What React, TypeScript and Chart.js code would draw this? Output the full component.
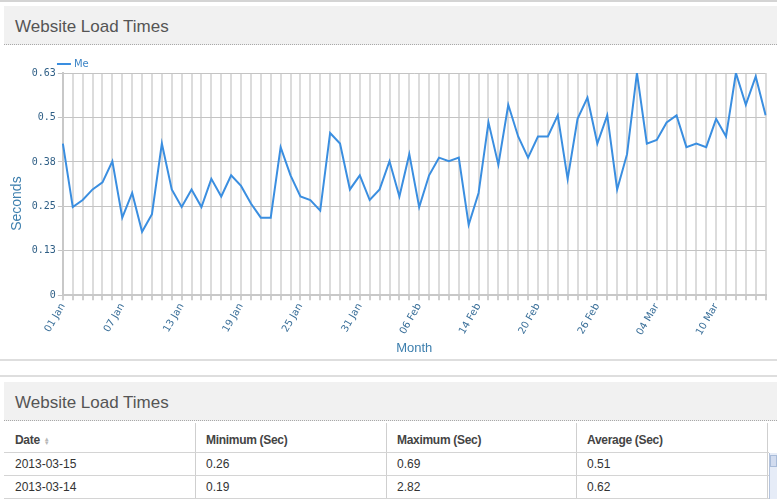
import React, { useEffect, useRef } from "react";
import { Chart, registerables } from "chart.js";

Chart.register(...registerables);

const dates: string[] = [
  "01 Jan", "02 Jan", "03 Jan", "04 Jan", "05 Jan", "06 Jan", "07 Jan", "08 Jan", "09 Jan", "10 Jan",
  "11 Jan", "12 Jan", "13 Jan", "14 Jan", "15 Jan", "16 Jan", "17 Jan", "18 Jan", "19 Jan", "20 Jan",
  "21 Jan", "22 Jan", "23 Jan", "24 Jan", "25 Jan", "26 Jan", "27 Jan", "28 Jan", "29 Jan", "30 Jan",
  "31 Jan", "01 Feb", "02 Feb", "03 Feb", "04 Feb", "05 Feb", "06 Feb", "07 Feb", "08 Feb", "11 Feb",
  "12 Feb", "13 Feb", "14 Feb", "15 Feb", "16 Feb", "17 Feb", "18 Feb", "19 Feb", "20 Feb", "21 Feb",
  "22 Feb", "23 Feb", "24 Feb", "25 Feb", "26 Feb", "27 Feb", "28 Feb", "01 Mar", "02 Mar", "03 Mar",
  "04 Mar", "05 Mar", "06 Mar", "07 Mar", "08 Mar", "09 Mar", "10 Mar", "11 Mar", "12 Mar", "13 Mar",
  "14 Mar", "15 Mar",
];

const meValues: number[] = [
  0.43, 0.25, 0.27, 0.30, 0.32, 0.38, 0.22, 0.29, 0.18, 0.23,
  0.43, 0.30, 0.25, 0.30, 0.25, 0.33, 0.28, 0.34, 0.31, 0.26,
  0.22, 0.22, 0.42, 0.34, 0.28, 0.27, 0.24, 0.46, 0.43, 0.30,
  0.34, 0.27, 0.30, 0.38, 0.28, 0.40, 0.25, 0.34, 0.39, 0.38,
  0.39, 0.20, 0.29, 0.49, 0.37, 0.54, 0.45, 0.39, 0.45, 0.45,
  0.51, 0.33, 0.50, 0.56, 0.43, 0.51, 0.30, 0.40, 0.63, 0.43,
  0.44, 0.49, 0.51, 0.42, 0.43, 0.42, 0.50, 0.45, 0.63, 0.54,
  0.62, 0.51,
];

const yTickValues: number[] = [0, 0.126, 0.252, 0.378, 0.504, 0.63];
const xLabelEvery = 6;

const tableColumns: string[] = ["Date", "Minimum (Sec)", "Maximum (Sec)", "Average (Sec)"];
const tableDates: string[] = ["2013-03-15", "2013-03-14"];
const tableMin: string[] = ["0.26", "0.19"];
const tableMax: string[] = ["0.69", "2.82"];
const tableAvg: string[] = ["0.51", "0.62"];

const TITLE = "Website Load Times";
const FONT = "'Liberation Sans', Arial, sans-serif";
const TICK_FONT = "'DejaVu Sans', Verdana, sans-serif";

const legendShift = {
  id: "legendShift",
  beforeDraw(chart: any) {
    const lg = chart.legend;
    if (lg && !lg._shifted) {
      const dx = chart.chartArea.left - 6 - lg.left;
      lg.left += dx;
      lg.right += dx;
      lg.top += 6;
      lg.bottom += 6;
      lg._shifted = true;
    }
  },
};

function LoadChart() {
  const ref = useRef<HTMLCanvasElement | null>(null);
  useEffect(() => {
    if (!ref.current) return;
    const chart = new Chart(ref.current, {
      type: "line",
      data: {
        labels: dates,
        datasets: [
          {
            label: "Me",
            data: meValues,
            borderColor: "#3a8ee0",
            backgroundColor: "#3a8ee0",
            borderWidth: 2,
            pointRadius: 0,
            tension: 0,
            fill: false,
          },
        ],
      },
      plugins: [legendShift],
      options: {
        animation: false,
        responsive: false,
        maintainAspectRatio: false,
        layout: { padding: { left: 9, right: -3, top: 12, bottom: 0 } },
        plugins: {
          legend: {
            display: true,
            position: "top",
            align: "start",
            fullSize: false,
            labels: {
              usePointStyle: true,
              pointStyle: "line",
              boxWidth: 10,
              color: "#3d85c6",
              font: { family: TICK_FONT, size: 10 },
              padding: 2,
            },
          },
          tooltip: { enabled: false },
        },
        scales: {
          x: {
            offset: false,
            grid: { color: "#dcdcdc", lineWidth: 2, tickLength: 5, tickColor: "#cfcfcf" },
            border: { color: "#c8c8c8", width: 2 },
            ticks: {
              autoSkip: false,
              minRotation: 60,
              maxRotation: 60,
              padding: 1,
              color: "#3a6f99",
              font: { family: TICK_FONT, size: 10 },
              callback: (_v: any, i: number) => (i % xLabelEvery === 0 ? dates[i] : ""),
            },
            title: {
              display: true,
              text: "Month",
              color: "#3d7fae",
              font: { family: FONT, size: 13 },
              padding: { top: 2, bottom: 0 },
            },
          },
          y: {
            min: 0,
            max: 0.63,
            afterBuildTicks: (scale: any) => {
              scale.ticks = yTickValues.map((v) => ({ value: v }));
            },
            grid: { color: "#c4c4c4", lineWidth: 1, tickLength: 5, tickColor: "#c4c4c4" },
            border: { color: "#c8c8c8", width: 2 },
            ticks: {
              color: "#2f5f86",
              font: { family: "'DejaVu Sans Mono', monospace", size: 10, lineHeight: 0.4 },
              padding: 2,
              callback: (v: any) => String(parseFloat(Number(v).toFixed(2))),
            },
            title: {
              display: true,
              text: "Seconds" + "\u00a0".repeat(10),
              color: "#3d7fae",
              font: { family: FONT, size: 14 },
              padding: { top: 0, bottom: 4 },
            },
          },
        },
      },
    } as any);
    return () => chart.destroy();
  }, []);
  return <canvas ref={ref} width={777} height={317} style={{ display: "block", width: 777, height: 317 }} />;
}

function SortIcon() {
  return (
    <span style={{ display: "inline-block", verticalAlign: "middle", marginLeft: 4, lineHeight: "4px", fontSize: 6, color: "#b8b8b8" }}>
      <span style={{ display: "block" }}>▲</span>
      <span style={{ display: "block" }}>▼</span>
    </span>
  );
}

function Panel({ top }: { top: number }) {
  return (
    <div
      style={{
        position: "absolute",
        left: 4,
        top,
        width: 773,
        height: 39,
        background: "#f1f1f1",
        borderBottom: "1px dotted #a8a8a8",
        boxSizing: "border-box",
      }}
    >
      <div style={{ position: "absolute", left: 11, top: 11, fontFamily: FONT, fontSize: 17, color: "#555" }}>{TITLE}</div>
    </div>
  );
}

export default function App() {
  const colX = [4, 195, 386, 576, 767];
  const rows = tableDates.map((d, i) => [d, tableMin[i], tableMax[i], tableAvg[i]]);
  return (
    <div style={{ position: "fixed", left: 0, top: 0, width: 777, height: 499, background: "#fff", overflow: "hidden" }}>
      <div style={{ position: "absolute", left: 0, top: 0, width: 777, height: 2, background: "#d4d4d4" }} />
      <Panel top={6} />
      <div style={{ position: "absolute", left: 0, top: 39 }}>
        <LoadChart />
      </div>
      <div style={{ position: "absolute", left: 0, top: 359, width: 777, height: 2, background: "#dedede" }} />
      <div style={{ position: "absolute", left: 0, top: 375, width: 777, height: 2, background: "#dedede" }} />
      <Panel top={382} />
      <div style={{ position: "absolute", left: 0, top: 421, width: 777, height: 78, fontFamily: FONT, fontSize: 12, color: "#333" }}>
        {tableColumns.map((c, j) => (
          <div
            key={c}
            style={{
              position: "absolute",
              left: colX[j] + 11,
              top: 12,
              fontWeight: "bold",
              color: "#444",
              fontSize: 12,
              letterSpacing: -0.3,
            }}
          >
            {c}
            {j === 0 ? <SortIcon /> : null}
          </div>
        ))}
        {[195, 386, 576, 767].map((x) => (
          <div key={x} style={{ position: "absolute", left: x, top: 2, width: 1, height: 76, background: "#cfcfcf" }} />
        ))}
        {[31, 54, 77].map((y) => (
          <div key={y} style={{ position: "absolute", left: 4, top: y, width: 765, height: 1, background: "#d4d4d4" }} />
        ))}
        {rows.map((r, i) =>
          r.map((cell, j) => (
            <div key={i + "-" + j} style={{ position: "absolute", left: colX[j] + 11, top: 36 + i * 23 }}>
              {cell}
            </div>
          ))
        )}
        <div style={{ position: "absolute", left: 769, top: 32, width: 8, height: 46, background: "#e6ecf7", borderLeft: "1px solid #b5c4dd" }} />
        <div style={{ position: "absolute", left: 770, top: 34, width: 7, height: 12, background: "#d2dcef", border: "1px solid #a9bcd9", boxSizing: "border-box" }} />
      </div>
    </div>
  );
}
